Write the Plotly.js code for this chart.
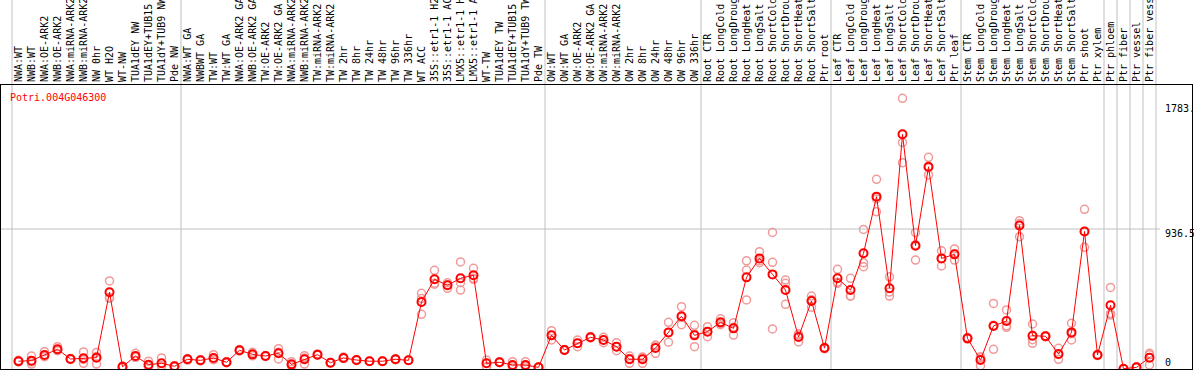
<!DOCTYPE html>
<html>
<head>
<meta charset="utf-8">
<script src="https://cdn.plot.ly/plotly-3.0.1.min.js"></script>
<style>
  html, body { margin: 0; padding: 0; background: #ffffff; }
  #chart { width: 1194px; height: 370px; }
</style>
</head>
<body>
<div id="chart"></div>
<script>
const geneId = "Potri.004G046300";

const categories = [
  "NWA:WT","NWB:WT","NWA:OE-ARK2","NWB:OE-ARK2","NWA:miRNA-ARK2","NWB:miRNA-ARK2","NW 0hr","WT H2O","WT-NW","TUA1dEY NW","TUA1dEY+TUB15 NW","TUA1dY+TUB9 NW","Pde NW",
  "NWA:WT GA","NWBWT GA","TW:WT","TW:WT GA","NWA:OE-ARK2 GA","NWB:OE-ARK2 GA","TW:OE-ARK2","TW:OE-ARK2 GA","NWA:miRNA-ARK2","NWB:miRNA-ARK2","TW:miRNA-ARK2","TW:miRNA-ARK2","TW 2hr","TW 8hr","TW 24hr","TW 48hr","TW 96hr","TW 336hr","WT ACC","35S::etr1-1 H2O","35S::etr1-1 ACC","LMX5::etr1-1 H2O","LMX5::etr1-1 ACC","WT-TW","TUA1dEY TW","TUA1dEY+TUB15 TW","TUA1dY+TUB9 TW","Pde TW",
  "OW:WT","OW:WT GA","OW:OE-ARK2","OW:OE-ARK2 GA","OW:miRNA-ARK2","OW:miRNA-ARK2","OW 2hr","OW 8hr","OW 24hr","OW 48hr","OW 96hr","OW 336hr",
  "Root CTR","Root LongCold","Root LongDrought","Root LongHeat","Root LongSalt","Root ShortCold","Root ShortDrought","Root ShortHeat","Root ShortSalt","Ptr root",
  "Leaf CTR","Leaf LongCold","Leaf LongDrought","Leaf LongHeat","Leaf LongSalt","Leaf ShortCold","Leaf ShortDrought","Leaf ShortHeat","Leaf ShortSalt","Ptr leaf",
  "Stem CTR","Stem LongCold","Stem LongDrought","Stem LongHeat","Stem LongSalt","Stem ShortCold","Stem ShortDrought","Stem ShortHeat","Stem ShortSalt","Ptr shoot","Ptr xylem",
  "Ptr phloem","Ptr fiber","Ptr vessel","Ptr fiber vessel"
];

// number of samples in each separated group (left to right)
const groupSizes = [13, 28, 12, 10, 10, 11, 1, 1, 1, 1];

const meanExpr = [
  52,56,94,132,67,72,76,513,15,87,
  29,38,18,65,58,74,45,125,98,87,
  105,31,65,96,42,74,60,52,52,65,
  58,448,600,560,607,627,38,45,27,27,
  11,225,127,172,212,194,149,65,65,140,
  245,353,225,250,312,272,613,740,633,528,
  214,455,140,607,528,774,1153,540,1570,825,
  1353,740,767,205,60,288,321,960,223,219,
  100,245,920,94,426,2,11,76
];

const rep1 = [
  58,87,116,149,67,114,111,589,15,105,
  52,74,18,65,58,96,45,125,112,87,
  136,49,89,96,42,80,60,52,52,65,
  58,506,660,577,716,674,60,45,49,49,
  11,256,127,194,212,194,176,87,80,160,
  312,417,292,283,336,310,724,785,914,595,
  227,488,140,667,607,934,1269,617,1811,914,
  1416,791,803,205,82,439,395,992,301,219,
  138,306,1068,94,546,2,11,105
];

const rep2 = [
  50,33,82,122,64,38,33,473,10,78,
  18,22,14,60,55,62,42,130,94,84,
  67,22,33,92,40,70,57,52,50,62,
  58,366,567,540,577,600,15,48,16,16,
  10,194,124,149,208,176,122,38,38,105,
  179,296,149,216,296,227,662,711,714,573,
  181,413,145,573,488,711,1052,488,1516,729,
  1298,689,729,210,22,132,279,885,172,215,
  65,194,814,90,361,2,8,27
];

const rep3 = [
  48,48,84,125,70,64,84,478,20,78,
  17,18,22,70,62,64,48,120,88,90,
  112,22,73,100,44,72,63,52,54,68,
  58,472,573,563,528,607,39,42,16,16,
  12,225,130,173,216,212,149,70,77,155,
  244,346,234,251,304,279,462,724,268,433,
  234,464,135,581,489,684,1138,515,1380,832,
  1345,740,769,200,76,293,289,973,196,223,
  97,235,920,98,371,2,14,96
];

const yTickVals = [0, 936.5, 1783];
const yTickText = ["0", "936.5", "1783."];

// ---- build figure ----
const idx = categories.map((_, i) => i);
const mono = "DejaVu Sans Mono, Liberation Mono, monospace";

const repColor = "#f09a9a";
const traces = [rep1, rep2, rep3].map(r => ({
  x: idx, y: r, type: "scatter", mode: "markers",
  marker: { symbol: "circle-open", size: 8, color: repColor, line: { width: 1.5 } },
  hoverinfo: "skip"
}));
traces.push({
  x: idx, y: meanExpr, type: "scatter", mode: "lines+markers",
  line: { color: "#ff0000", width: 1 },
  marker: { symbol: "circle-open", size: 8, color: "#ff0000", line: { width: 2 } },
  hoverinfo: "skip"
});

// group separators
const shapes = [];
let pos = -0.5;
shapes.push({ type: "line", xref: "x", yref: "paper", x0: pos, x1: pos, y0: 0, y1: 1.32,
  line: { color: "#c0c0c0", width: 1 }, layer: "below" });
groupSizes.forEach(n => {
  pos += n;
  shapes.push({ type: "line", xref: "x", yref: "paper", x0: pos, x1: pos, y0: 0, y1: 1.32,
    line: { color: "#c0c0c0", width: 1 }, layer: "below" });
});
// horizontal mid gridline
shapes.push({ type: "line", xref: "paper", yref: "y", x0: 0, x1: 0.973, y0: yTickVals[1], y1: yTickVals[1],
  line: { color: "#c0c0c0", width: 1 }, layer: "below" });

const yShifts = [7, -4, -6];
const annotations = yTickVals.map((v, i) => ({
  xref: "paper", yref: "y", x: 0.9757, y: v, xanchor: "left", yanchor: "middle",
  yshift: yShifts[i], text: yTickText[i], showarrow: false,
  font: { family: mono, size: 10, color: "#000000" }
}));

const plotW = 1194 - 1 - 2;
const x0 = -1.346;
const layout = {
  width: 1194, height: 370,
  margin: { l: 1, r: 2, t: 85, b: 1, pad: 0 },
  paper_bgcolor: "#ffffff", plot_bgcolor: "#ffffff",
  showlegend: false,
  title: {
    text: geneId, xref: "container", yref: "container",
    x: 10 / 1194, xanchor: "left", y: (370 - 97) / 370, yanchor: "middle",
    font: { family: mono, size: 10, color: "#ff0000" }
  },
  xaxis: {
    range: [x0, x0 + plotW / 13], side: "top",
    tickmode: "array", tickvals: idx, ticktext: categories, tickangle: -90,
    tickfont: { family: mono, size: 10, color: "#000000" },
    ticks: "", showgrid: false, zeroline: false,
    showline: true, mirror: true, linecolor: "#000000", linewidth: 1,
    automargin: false, fixedrange: true
  },
  yaxis: {
    range: [0, 1900], showticklabels: false, ticks: "",
    showgrid: false, zeroline: false,
    showline: true, mirror: true, linecolor: "#000000", linewidth: 1,
    automargin: false, fixedrange: true
  },
  shapes: shapes,
  annotations: annotations
};

Plotly.newPlot("chart", traces, layout, { staticPlot: true, displayModeBar: false });
</script>
</body>
</html>
